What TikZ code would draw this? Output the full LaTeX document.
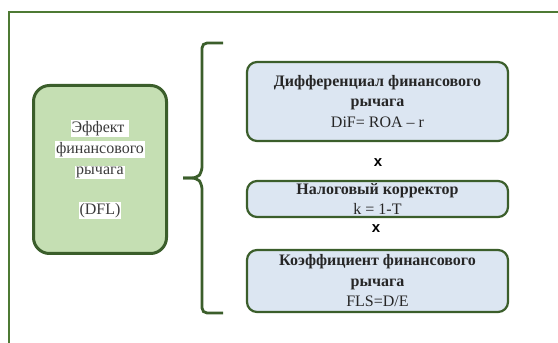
\documentclass[tikz,border=0pt]{standalone}
\usepackage{fontspec}
\setmainfont{Liberation Serif}
\setsansfont{Liberation Sans}
\definecolor{framegreen}{HTML}{4E7A34}
\definecolor{boxgreen}{HTML}{3B5E2B}
\definecolor{leafgreen}{HTML}{C5DFB3}
\definecolor{paleblue}{HTML}{DCE6F2}
\definecolor{inkgray}{HTML}{3A3A3A}
\tikzset{
    dfl diagram/.style = {x=1pt, y=1pt},
    frame/.style       = {draw=framegreen, line width=1.6pt},
    effect/.style      = {draw=boxgreen, line width=3pt, fill=leafgreen,
                          rounded corners=16pt, align=center,
                          minimum width=133pt, minimum height=168pt,
                          text=inkgray,
                          font=\fontsize{16}{21}\selectfont},
    factor/.style      = {draw=boxgreen, line width=2.2pt, fill=paleblue,
                          rounded corners=10pt, align=center,
                          minimum width=261pt, inner ysep=0pt,
                          text=black!85,
                          font=\fontsize{16}{20.5}\selectfont},
    times/.style       = {font=\sffamily\bfseries\fontsize{15}{15}\selectfont},
    brace/.style       = {draw=boxgreen, line width=2.8pt, rounded corners=5pt}
}
\setlength{\fboxsep}{0.8pt}
\newcommand{\whiteline}[1]{\colorbox{white}{#1}}
\def\bracex{202}
\def\hookx{223}

\begin{document}
\begin{tikzpicture}[dfl diagram]
\useasboundingbox (0,0) rectangle (558,343);

% Outer frame, only its top and left edges fall inside the page.
\coordinate (frame nw) at (9,331);
\draw[frame] (frame nw |- 0,-4) -- (frame nw) -- (564,331);

% The effect and the three factors that make it.
\node[effect] (dfl) at (100,173.5)
    {\whiteline{Эффект\ }\\ \whiteline{финансового}\\
     \whiteline{рычага}\\[19pt] \whiteline{(DFL)}};
\node[factor, minimum height=79pt] (dif) at (377.5,241.5)
    {\textbf{Дифференциал финансового}\\ \textbf{рычага}\\ DiF= ROA -- r};
\node[factor, minimum height=36pt] (tax) at (377.5,144)
    {\textbf{Налоговый корректор}\\ k = 1-T};
\node[factor, minimum height=62pt] (fls) at (377.5,62)
    {\textbf{Коэффициент финансового}\\ \textbf{рычага}\\ FLS=D/E};
\node[times] (times1) at (378,180) {x};
\node[times] (times2) at (376,114) {x};

% Brace that gathers the factors.
\coordinate (tip) at (183,165);
\draw[brace] (\hookx,300) -- (\bracex,300) -- (\bracex,171)
    -- (\bracex-5,165) -- (tip);
\draw[brace] (tip) -- (\bracex-5,165) -- (\bracex,159)
    -- (\bracex,30) -- (\hookx,30);

\end{tikzpicture}
\end{document}
